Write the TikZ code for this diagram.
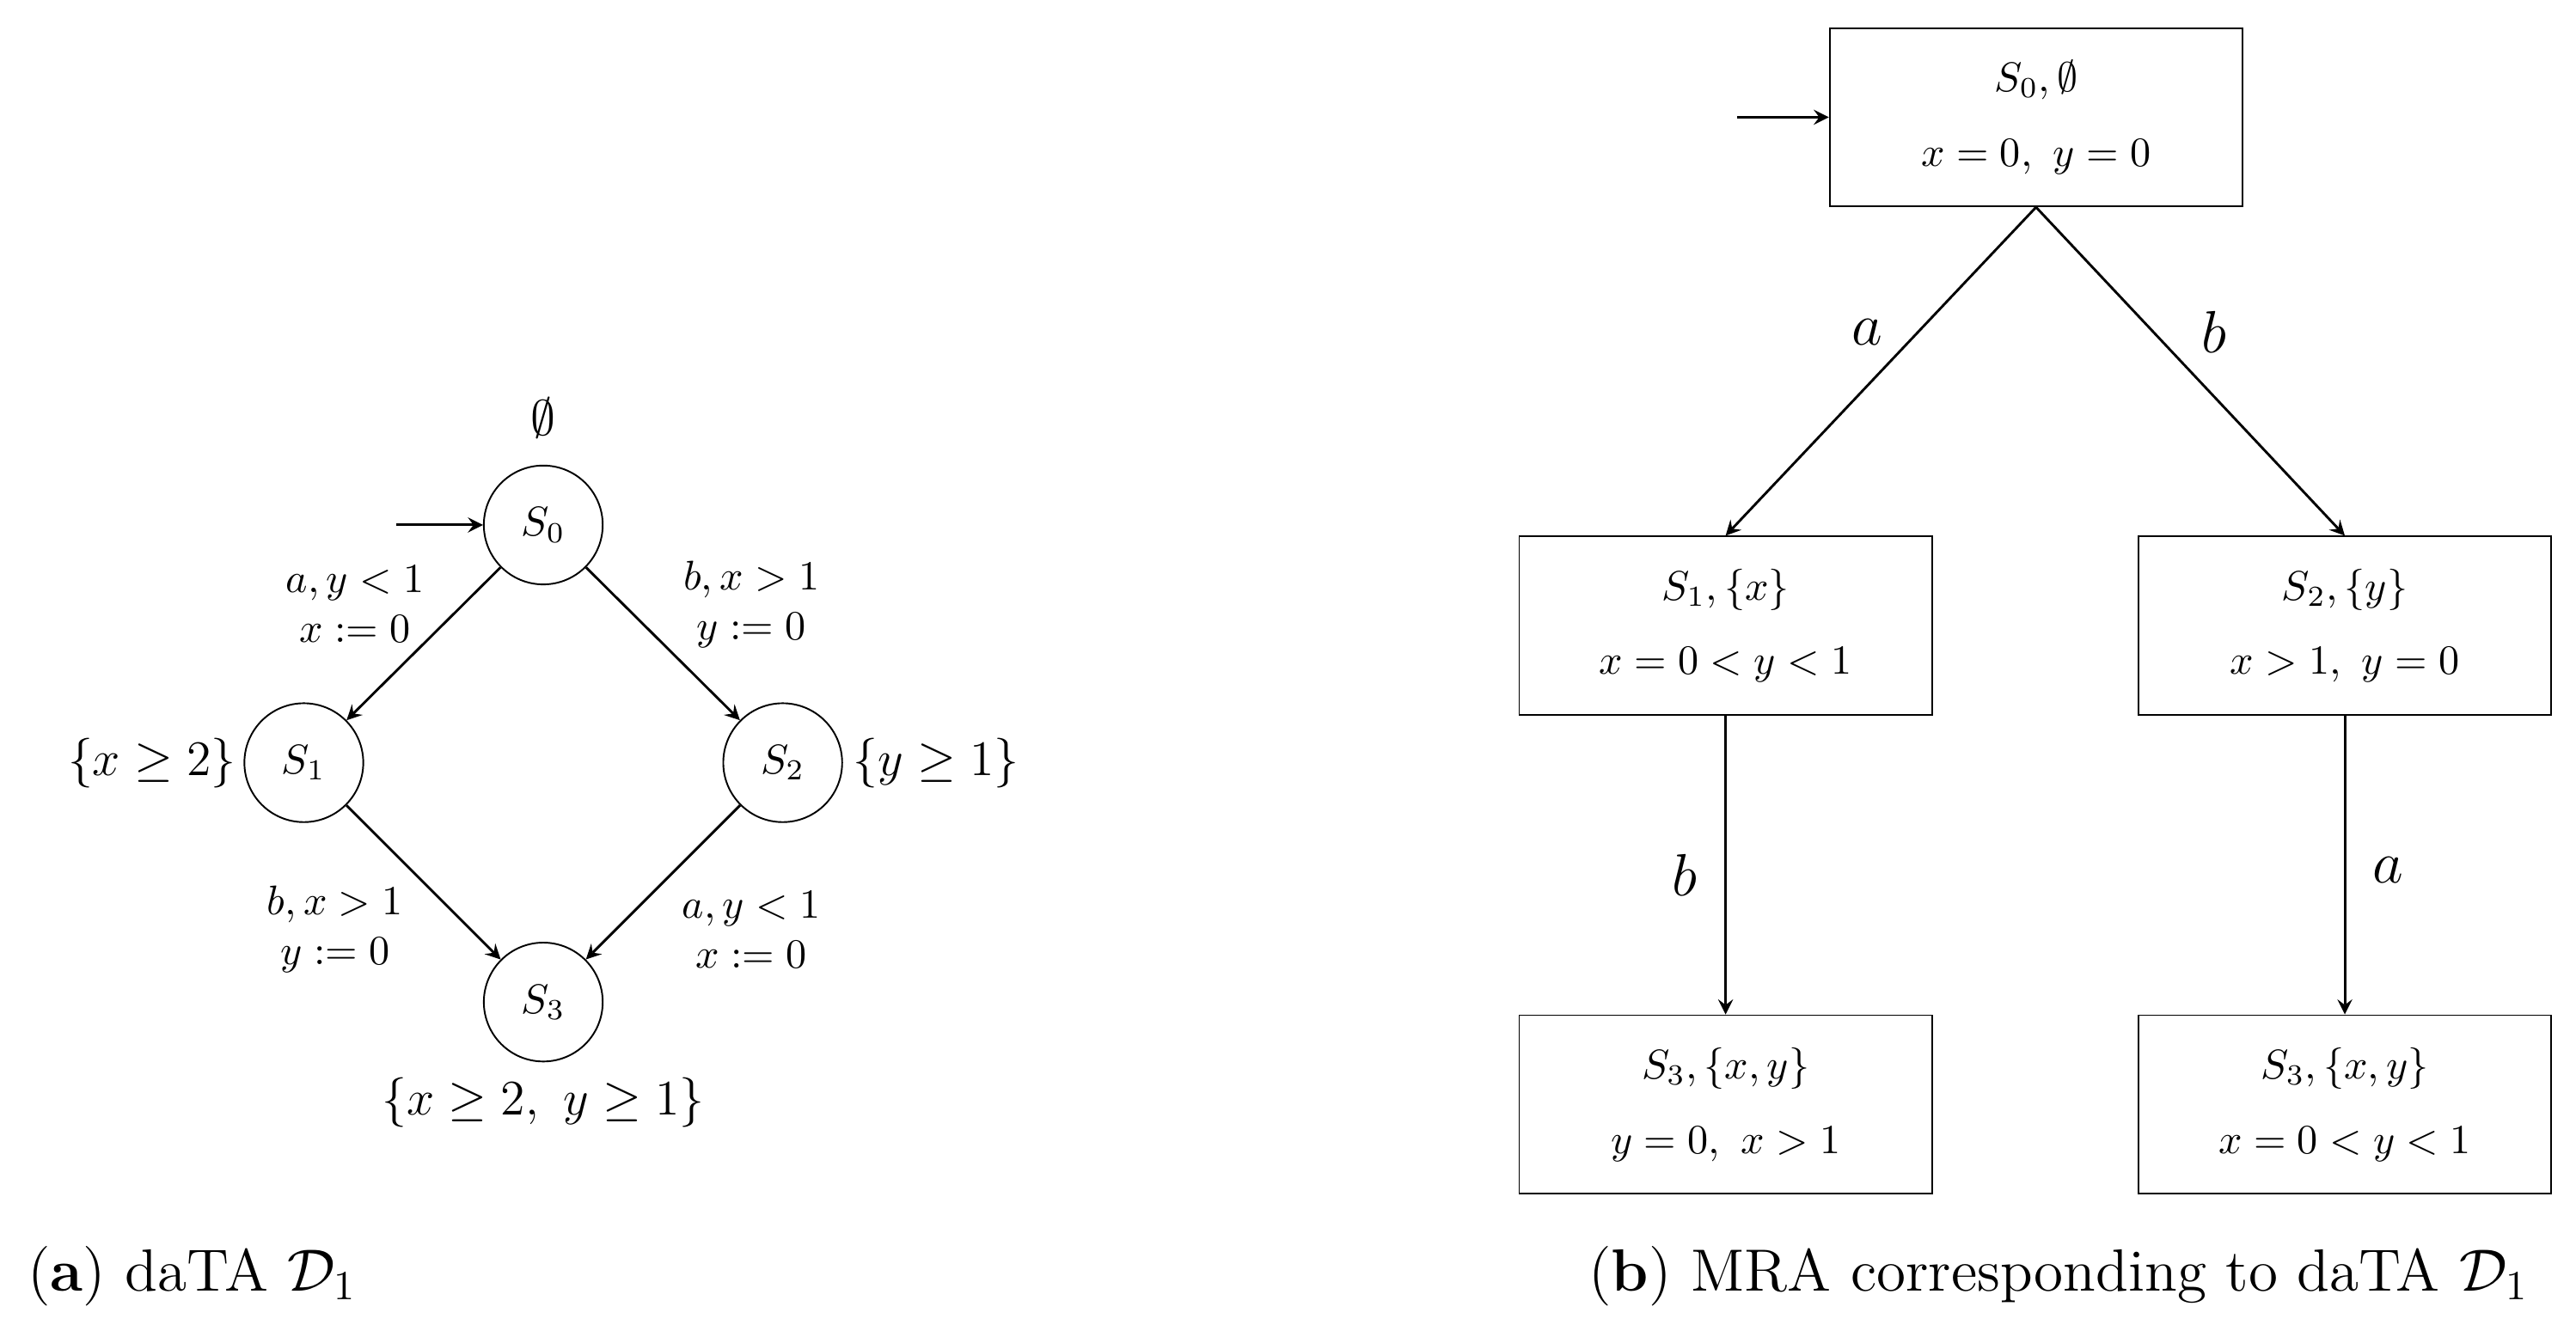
\documentclass[tikz,border=0pt]{standalone}
\usepackage{amsmath,amssymb}
\begin{document}
\begin{tikzpicture}[x=0.014cm,y=-0.014cm,>=stealth,
 st/.style={circle,draw,minimum size=0.014cm*72,inner sep=0pt},
 bx/.style={draw,minimum width=0.014cm*250,minimum height=0.014cm*108,align=center},
 lb/.style={align=center,font=\normalsize},
 el/.style={font=\Large},
 ar/.style={->,line width=0.6pt}]
\useasboundingbox (0,0) rectangle (1560,802.6);
% left
\node[st] (s0) at (329,318) {$S_0$};
\node[st] (s1) at (184,462) {$S_1$};
\node[st] (s2) at (474,462) {$S_2$};
\node[st] (s3) at (329,607) {$S_3$};
\coordinate (i0) at (240,318);
\draw[ar] (i0) -- (s0);
\draw[ar] (s0) -- (s1);
\draw[ar] (s0) -- (s2);
\draw[ar] (s1) -- (s3);
\draw[ar] (s2) -- (s3);
\node[lb] (e0) at (329,253) {\large$\emptyset$};
\node[lb] (e1) at (92,462) {\large$\{x\geq 2\}$};
\node[lb] (e2) at (567,462) {\large$\{y\geq 1\}$};
\node[lb] (e3) at (329,668) {\large$\{x\geq 2,\ y\geq 1\}$};
\node[lb] (l1) at (215,366) {$a,y<1$\\$x:=0$};
\node[lb] (l2) at (455,366) {$b,x>1$\\$y:=0$};
\node[lb] (l3) at (203,563) {$b,x>1$\\$y:=0$};
\node[lb] (l4) at (455,563) {$a,y<1$\\$x:=0$};
\node[anchor=west,font=\Large] (ca) at (8,773) {(\textbf{a}) daTA $\mathcal{D}_1$};
% right
\node[bx] (b0) at (1233,71) {$S_0,\emptyset$\\[6pt]$x=0,\ y=0$};
\node[bx] (b1) at (1045,379) {$S_1,\{x\}$\\[6pt]$x=0<y<1$};
\node[bx] (b2) at (1420,379) {$S_2,\{y\}$\\[6pt]$x>1,\ y=0$};
\node[bx] (b3) at (1045,669) {$S_3,\{x,y\}$\\[6pt]$y=0,\ x>1$};
\node[bx] (b4) at (1420,669) {$S_3,\{x,y\}$\\[6pt]$x=0<y<1$};
\coordinate (i1) at (1052,71);
\draw[ar] (i1) -- (b0);
\draw[ar] (b0.south) -- (b1.north);
\draw[ar] (b0.south) -- (b2.north);
\draw[ar] (b1) -- (b3);
\draw[ar] (b2) -- (b4);
\node[el] at (1131,201) {$a$};
\node[el] at (1341,201) {$b$};
\node[el] at (1020,530) {$b$};
\node[el] at (1446,527) {$a$};
\node[anchor=east,font=\Large] (cb) at (1540,773) {(\textbf{b}) MRA corresponding to daTA $\mathcal{D}_1$};
\end{tikzpicture}
\end{document}
